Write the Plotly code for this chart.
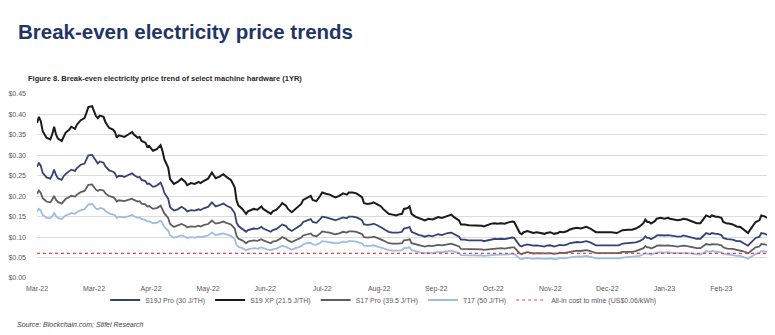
import pandas as pd
import plotly.graph_objects as go

# Day offsets from the first observation (1 Mar 2022)
START = "2022-03-01"
days = [0, 1, 2, 3, 5, 7, 8, 9, 10, 11, 13, 14, 15, 17, 18, 20, 21, 23, 25, 26,
        27, 29, 30, 31, 32, 33, 35, 36, 38, 40, 41, 42, 43, 45, 46, 48, 50, 51, 53, 54,
        55, 57, 58, 59, 61, 62, 63, 65, 66, 67, 69, 70, 72, 74, 76, 78, 79, 81, 83, 85,
        86, 88, 90,
        92, 93, 94, 96, 97, 98, 100, 101, 102, 104, 105, 106, 108, 110, 111, 112, 114, 116, 118, 119,
        121, 123, 124, 126, 128, 129, 131, 132, 134, 136, 137, 139, 140, 142, 144, 145, 147, 149, 150, 152,
        154, 156, 157, 159, 161, 163, 164, 166, 168, 170, 171, 172, 174, 176, 177, 179, 181, 182, 183,
        185, 187, 189, 190, 192, 193, 195, 196, 197, 199, 201, 202, 204, 206, 208, 209, 211, 213, 215, 216,
        218, 219, 222, 223, 225, 227, 228, 230, 232, 234, 235, 237, 239, 241, 242, 244, 246, 248, 250, 251,
        252, 254, 255, 256, 258, 260, 261, 263, 265, 267, 268, 270, 272, 274, 275, 277, 279, 280, 282,
        284, 286, 287, 289, 291, 293, 294, 297, 300, 302, 305, 306, 308, 311, 313, 315, 317, 319, 320, 321,
        322, 323, 325, 326, 328, 330, 332, 333, 335, 337, 339, 340, 342, 344, 345, 347, 349, 351, 352, 354,
        355, 357, 358, 360, 361, 363, 364, 366, 368, 370, 371, 373, 374, 375, 377, 378, 380, 381, 383, 384]

# Break-even electricity price, US$/kWh
s19j_pro = [0.272, 0.282, 0.274, 0.257, 0.246, 0.243, 0.252, 0.265, 0.252, 0.244,
            0.240, 0.249, 0.254, 0.260, 0.265, 0.262, 0.269, 0.277, 0.280, 0.290,
            0.300, 0.301, 0.294, 0.284, 0.280, 0.285, 0.282, 0.273, 0.263, 0.260,
            0.256, 0.246, 0.250, 0.249, 0.247, 0.252, 0.256, 0.252, 0.246, 0.247,
            0.240, 0.237, 0.230, 0.231, 0.223, 0.224, 0.226, 0.233, 0.223, 0.208,
            0.194, 0.173, 0.165, 0.168, 0.174, 0.168, 0.163, 0.166, 0.165, 0.168,
            0.166, 0.171, 0.174,
            0.185, 0.179, 0.175, 0.178, 0.181, 0.182, 0.176, 0.173, 0.172, 0.159,
            0.135, 0.127, 0.121, 0.113, 0.117, 0.118, 0.121, 0.120, 0.125, 0.121,
            0.117, 0.113, 0.117, 0.120, 0.127, 0.131, 0.127, 0.121, 0.115, 0.121,
            0.124, 0.130, 0.137, 0.141, 0.144, 0.137, 0.135, 0.144, 0.150, 0.148,
            0.146, 0.143, 0.141, 0.144, 0.148, 0.146, 0.150, 0.150, 0.148, 0.144,
            0.141, 0.131, 0.130, 0.131, 0.133, 0.129, 0.125, 0.121, 0.118,
            0.113, 0.111, 0.110, 0.111, 0.113, 0.121, 0.123, 0.125, 0.113, 0.108,
            0.105, 0.104, 0.101, 0.104, 0.102, 0.104, 0.107, 0.105, 0.108, 0.110,
            0.111, 0.108, 0.101, 0.094, 0.094, 0.092, 0.092, 0.092, 0.092, 0.092,
            0.090, 0.092, 0.095, 0.096, 0.095, 0.096, 0.095, 0.097, 0.099, 0.098,
            0.092, 0.079, 0.077, 0.080, 0.082, 0.080, 0.079, 0.080, 0.079, 0.077,
            0.079, 0.080, 0.077, 0.079, 0.081, 0.080, 0.082, 0.085, 0.087,
            0.088, 0.087, 0.088, 0.090, 0.087, 0.082, 0.080, 0.080, 0.080, 0.080,
            0.079, 0.080, 0.084, 0.085, 0.085, 0.087, 0.090, 0.096, 0.102, 0.098,
            0.098, 0.095, 0.100, 0.104, 0.105, 0.104, 0.105, 0.104, 0.102, 0.101,
            0.102, 0.104, 0.102, 0.100, 0.098, 0.096, 0.096, 0.104, 0.110, 0.107,
            0.110, 0.108, 0.108, 0.105, 0.098, 0.095, 0.095, 0.094, 0.090, 0.090,
            0.087, 0.082, 0.079, 0.084, 0.092, 0.098, 0.101, 0.110, 0.108, 0.105]

s19_xp = [0.379, 0.394, 0.383, 0.359, 0.343, 0.339, 0.351, 0.370, 0.351, 0.341,
          0.335, 0.347, 0.355, 0.363, 0.370, 0.365, 0.375, 0.386, 0.391, 0.404,
          0.418, 0.420, 0.410, 0.396, 0.391, 0.397, 0.394, 0.381, 0.367, 0.363,
          0.357, 0.343, 0.349, 0.347, 0.345, 0.351, 0.357, 0.351, 0.343, 0.345,
          0.335, 0.331, 0.321, 0.323, 0.311, 0.313, 0.315, 0.325, 0.311, 0.290,
          0.270, 0.242, 0.230, 0.235, 0.243, 0.235, 0.227, 0.232, 0.230, 0.235,
          0.232, 0.238, 0.243,
          0.258, 0.250, 0.244, 0.248, 0.252, 0.254, 0.246, 0.242, 0.240, 0.222,
          0.189, 0.177, 0.169, 0.157, 0.163, 0.165, 0.169, 0.167, 0.175, 0.169,
          0.163, 0.157, 0.163, 0.167, 0.177, 0.183, 0.177, 0.169, 0.161, 0.169,
          0.173, 0.181, 0.191, 0.197, 0.201, 0.191, 0.188, 0.201, 0.209, 0.206,
          0.204, 0.199, 0.197, 0.201, 0.207, 0.204, 0.209, 0.209, 0.207, 0.201,
          0.197, 0.183, 0.181, 0.183, 0.185, 0.180, 0.175, 0.169, 0.165,
          0.157, 0.155, 0.153, 0.155, 0.157, 0.169, 0.171, 0.175, 0.157, 0.150,
          0.147, 0.145, 0.141, 0.145, 0.143, 0.145, 0.149, 0.147, 0.150, 0.153,
          0.155, 0.150, 0.141, 0.131, 0.131, 0.129, 0.129, 0.129, 0.129, 0.128,
          0.126, 0.129, 0.133, 0.134, 0.133, 0.134, 0.133, 0.136, 0.138, 0.137,
          0.129, 0.110, 0.107, 0.112, 0.115, 0.112, 0.110, 0.112, 0.110, 0.108,
          0.110, 0.112, 0.108, 0.110, 0.113, 0.112, 0.115, 0.118, 0.121,
          0.123, 0.121, 0.123, 0.125, 0.121, 0.115, 0.112, 0.112, 0.112, 0.112,
          0.110, 0.112, 0.117, 0.118, 0.118, 0.121, 0.126, 0.134, 0.143, 0.137,
          0.137, 0.133, 0.139, 0.145, 0.147, 0.145, 0.147, 0.145, 0.143, 0.141,
          0.143, 0.145, 0.143, 0.139, 0.137, 0.134, 0.134, 0.145, 0.153, 0.149,
          0.153, 0.150, 0.150, 0.147, 0.137, 0.133, 0.133, 0.131, 0.126, 0.125,
          0.121, 0.115, 0.110, 0.117, 0.129, 0.137, 0.141, 0.153, 0.150, 0.147]

s17_pro = [0.206, 0.214, 0.208, 0.195, 0.187, 0.185, 0.191, 0.201, 0.191, 0.186,
           0.182, 0.189, 0.193, 0.198, 0.201, 0.199, 0.204, 0.210, 0.213, 0.220,
           0.228, 0.229, 0.223, 0.216, 0.213, 0.216, 0.214, 0.207, 0.200, 0.198,
           0.194, 0.187, 0.190, 0.189, 0.188, 0.191, 0.194, 0.191, 0.187, 0.188,
           0.182, 0.180, 0.175, 0.176, 0.169, 0.170, 0.171, 0.177, 0.169, 0.158,
           0.147, 0.132, 0.125, 0.128, 0.132, 0.128, 0.124, 0.126, 0.125, 0.128,
           0.126, 0.130, 0.132,
           0.140, 0.136, 0.133, 0.135, 0.137, 0.138, 0.134, 0.132, 0.131, 0.121,
           0.103, 0.096, 0.092, 0.085, 0.089, 0.090, 0.092, 0.091, 0.095, 0.092,
           0.089, 0.085, 0.089, 0.091, 0.096, 0.100, 0.096, 0.092, 0.088, 0.092,
           0.094, 0.099, 0.104, 0.107, 0.109, 0.104, 0.102, 0.109, 0.114, 0.112,
           0.111, 0.108, 0.107, 0.109, 0.113, 0.111, 0.114, 0.114, 0.113, 0.109,
           0.107, 0.100, 0.099, 0.100, 0.101, 0.098, 0.095, 0.092, 0.090,
           0.085, 0.084, 0.083, 0.084, 0.085, 0.092, 0.093, 0.095, 0.085, 0.082,
           0.080, 0.079, 0.077, 0.079, 0.078, 0.079, 0.081, 0.080, 0.082, 0.083,
           0.084, 0.082, 0.077, 0.071, 0.071, 0.070, 0.070, 0.070, 0.070, 0.070,
           0.069, 0.070, 0.072, 0.073, 0.072, 0.073, 0.072, 0.074, 0.075, 0.075,
           0.070, 0.060, 0.058, 0.061, 0.063, 0.061, 0.060, 0.061, 0.060, 0.059,
           0.060, 0.061, 0.059, 0.060, 0.062, 0.061, 0.063, 0.064, 0.066,
           0.067, 0.066, 0.067, 0.068, 0.066, 0.063, 0.061, 0.061, 0.061, 0.061,
           0.060, 0.061, 0.064, 0.064, 0.064, 0.066, 0.069, 0.073, 0.078, 0.075,
           0.075, 0.072, 0.076, 0.079, 0.080, 0.079, 0.080, 0.079, 0.078, 0.077,
           0.078, 0.079, 0.078, 0.076, 0.075, 0.073, 0.073, 0.079, 0.083, 0.081,
           0.083, 0.082, 0.082, 0.080, 0.075, 0.072, 0.072, 0.071, 0.069, 0.068,
           0.066, 0.063, 0.060, 0.064, 0.070, 0.075, 0.077, 0.083, 0.082, 0.080]

t17 = [0.163, 0.169, 0.165, 0.154, 0.147, 0.146, 0.151, 0.159, 0.151, 0.147,
       0.144, 0.149, 0.153, 0.156, 0.159, 0.157, 0.161, 0.166, 0.168, 0.174,
       0.180, 0.181, 0.176, 0.170, 0.168, 0.171, 0.169, 0.164, 0.158, 0.156,
       0.154, 0.147, 0.150, 0.149, 0.148, 0.151, 0.154, 0.151, 0.147, 0.148,
       0.144, 0.142, 0.138, 0.139, 0.134, 0.135, 0.135, 0.140, 0.134, 0.125,
       0.116, 0.104, 0.099, 0.101, 0.104, 0.101, 0.098, 0.100, 0.099, 0.101,
       0.100, 0.102, 0.104,
       0.111, 0.108, 0.105, 0.107, 0.108, 0.109, 0.106, 0.104, 0.103, 0.095,
       0.081, 0.076, 0.073, 0.068, 0.070, 0.071, 0.073, 0.072, 0.075, 0.073,
       0.070, 0.068, 0.070, 0.072, 0.076, 0.079, 0.076, 0.073, 0.069, 0.073,
       0.074, 0.078, 0.082, 0.085, 0.086, 0.082, 0.081, 0.086, 0.090, 0.089,
       0.088, 0.086, 0.085, 0.086, 0.089, 0.088, 0.090, 0.090, 0.089, 0.086,
       0.085, 0.079, 0.078, 0.079, 0.080, 0.077, 0.075, 0.073, 0.071,
       0.068, 0.067, 0.066, 0.067, 0.068, 0.073, 0.074, 0.075, 0.068, 0.065,
       0.063, 0.062, 0.061, 0.062, 0.061, 0.062, 0.064, 0.063, 0.065, 0.066,
       0.067, 0.065, 0.061, 0.056, 0.056, 0.055, 0.055, 0.055, 0.055, 0.055,
       0.054, 0.055, 0.057, 0.058, 0.057, 0.058, 0.057, 0.058, 0.059, 0.059,
       0.055, 0.047, 0.046, 0.048, 0.049, 0.048, 0.047, 0.048, 0.047, 0.046,
       0.047, 0.048, 0.046, 0.047, 0.049, 0.048, 0.049, 0.051, 0.052,
       0.053, 0.052, 0.053, 0.054, 0.052, 0.049, 0.048, 0.048, 0.048, 0.048,
       0.047, 0.048, 0.050, 0.051, 0.051, 0.052, 0.054, 0.058, 0.061, 0.059,
       0.059, 0.057, 0.060, 0.062, 0.063, 0.062, 0.063, 0.062, 0.061, 0.061,
       0.061, 0.062, 0.061, 0.060, 0.059, 0.058, 0.058, 0.062, 0.066, 0.064,
       0.066, 0.065, 0.065, 0.063, 0.059, 0.057, 0.057, 0.056, 0.054, 0.054,
       0.052, 0.049, 0.047, 0.050, 0.055, 0.059, 0.061, 0.066, 0.065, 0.063]

all_in_cost = 0.06  # US$/kWh

series_names = ["S19J Pro (30 J/TH)", "S19 XP (21.5 J/TH)", "S17 Pro (39.5 J/TH)", "T17 (50 J/TH)"]
cost_name = "All-in cost to mine (US$0.06/kWh)"

y_ticks = [0.00, 0.05, 0.10, 0.15, 0.20, 0.25, 0.30, 0.35, 0.40, 0.45]
label_step_days = 30
label_count = 13

dates = pd.Timestamp(START) + pd.to_timedelta(days, unit="D")
tick_dates = pd.Timestamp(START) + pd.to_timedelta(
    [i * label_step_days for i in range(label_count)], unit="D")

TEXT = "Liberation Sans, Arial, sans-serif"
GREY_TEXT = "#595959"

fig = go.Figure()
styles = [
    (s19j_pro, "#35427A", 1.8),
    (s19_xp, "#1A1A1A", 2.0),
    (s17_pro, "#5E5E5E", 1.8),
    (t17, "#9DBDE3", 1.8),
]
for name, (vals, color, width) in zip(series_names, styles):
    fig.add_trace(go.Scatter(x=dates, y=vals, name=name, mode="lines",
                             line=dict(color=color, width=width)))

fig.add_trace(go.Scatter(x=[dates[0], dates[-1]], y=[all_in_cost, all_in_cost],
                         name=cost_name, mode="lines",
                         line=dict(color="#E8434A", width=1.2, dash="dot")))

# Plot area: left 29px, right 767px, top 94px, bottom 278px
L, R, T, B = 29, 8, 94, 57
W, H = 775, 335
pw, ph = W - L - R, H - T - B


def px_x(px):
    return (px - L) / pw


def px_y(py):
    return (H - B - py) / ph


fig.update_layout(
    width=W, height=H,
    margin=dict(l=L, r=R, t=T, b=B, pad=0),
    paper_bgcolor="white", plot_bgcolor="white",
    font=dict(family=TEXT, size=7, color=GREY_TEXT),
    title=dict(text="<b>Break-even electricity price trends</b>",
               font=dict(family=TEXT, size=20.5, color="#1F3566"),
               x=18 / W, xref="container", xanchor="left",
               y=1 - 32 / H, yref="container", yanchor="middle"),
    showlegend=True,
    legend=dict(orientation="h", x=px_x(379), xanchor="center",
                y=px_y(300), yanchor="middle",
                font=dict(family=TEXT, size=7, color=GREY_TEXT),
                bgcolor="rgba(0,0,0,0)", itemwidth=30, tracegroupgap=0),
    xaxis=dict(range=[dates[0], dates[-1]], tickvals=tick_dates, tickformat="%b-%y",
               showgrid=False, showline=False, zeroline=False, ticks="",
               tickfont=dict(family=TEXT, size=7, color=GREY_TEXT), ticklabelstandoff=5),
    yaxis=dict(range=[0, 0.45], tickvals=y_ticks, tickformat="$.2f",
               showgrid=True, gridcolor="#DCDCDC", gridwidth=1,
               zeroline=False, showline=False, ticks="",
               tickfont=dict(family=TEXT, size=7, color=GREY_TEXT), ticklabelstandoff=10),
    annotations=[
        dict(text="<b>Figure 8. Break-even electricity price trend of select machine hardware (1YR)</b>",
             xref="paper", yref="paper", x=px_x(18), y=px_y(78),
             xanchor="left", yanchor="middle", showarrow=False,
             font=dict(family=TEXT, size=7.5, color="#262626")),
        dict(text="<i>Source: Blockchain.com; Stifel Research</i>",
             xref="paper", yref="paper", x=px_x(7), y=px_y(324),
             xanchor="left", yanchor="middle", showarrow=False,
             font=dict(family=TEXT, size=7, color="#404040")),
    ],
)

fig.write_html("out.html")
